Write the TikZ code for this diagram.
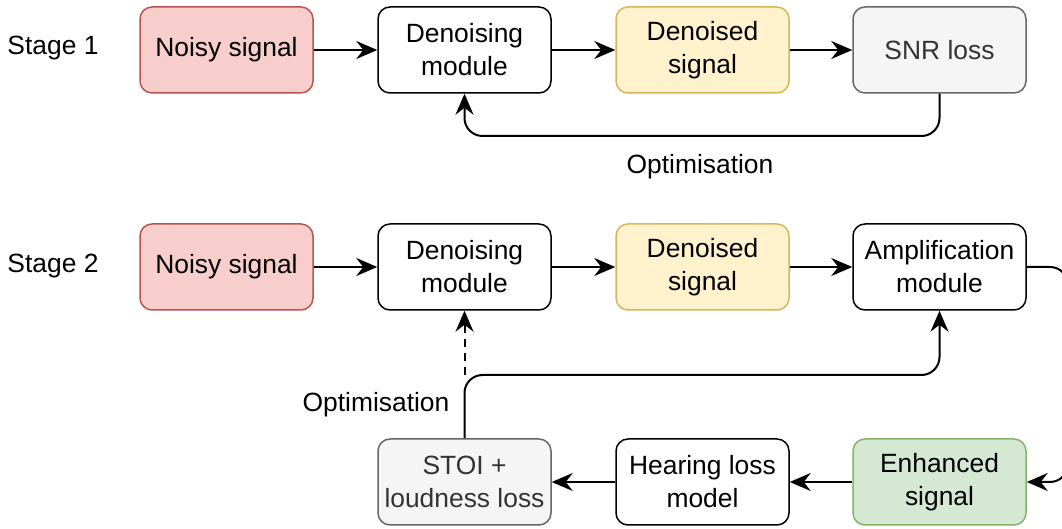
\documentclass[tikz,border=0pt]{standalone}
\usepackage{fontspec}
\setmainfont{Liberation Sans}
\usetikzlibrary{arrows.meta}
\definecolor{redfill}{HTML}{F8CECC}\definecolor{redline}{HTML}{B85450}
\definecolor{yelfill}{HTML}{FFF2CC}\definecolor{yelline}{HTML}{D6B656}
\definecolor{grayfill}{HTML}{F5F5F5}\definecolor{grayline}{HTML}{666666}\definecolor{graytext}{HTML}{333333}
\definecolor{grnfill}{HTML}{D5E8D4}\definecolor{grnline}{HTML}{82B366}
\begin{document}
\begin{tikzpicture}[x=0.5pt,y=-0.5pt,
  every node/.style={font=\fontsize{13.2}{16.5}\selectfont},
  box/.style={draw, line width=0.75pt, rounded corners=6pt, minimum width=86.5pt, minimum height=43pt, align=center, inner sep=2pt},
  noisy/.style={box, fill=redfill, draw=redline},
  plain/.style={box, fill=white, draw=black},
  yel/.style={box, fill=yelfill, draw=yelline},
  gry/.style={box, fill=grayfill, draw=grayline, text=graytext},
  grn/.style={box, fill=grnfill, draw=grnline},
  conn/.style={line width=1pt, -{Stealth[length=10.5pt,width=9pt,inset=3.5pt]}, rounded corners=9pt},
  lbl/.style={inner sep=0pt}]
\clip (0,0) rectangle (1062,529);
\useasboundingbox (0,0) rectangle (1062,529);
% stage 1
\node[lbl] (s1) at (53,48) {Stage 1};
\node[noisy] (n1) at (226.5,50) {Noisy signal};
\node[plain] (d1) at (464.5,50) {Denoising\\module};
\node[yel] (ds1) at (702.5,50) {Denoised\\signal};
\node[gry] (snr) at (939.5,50) {SNR loss};
\node[lbl] (o1) at (700,167) {Optimisation};
\draw[conn] (n1) -- (d1);
\draw[conn] (d1) -- (ds1);
\draw[conn] (ds1) -- (snr);
\draw[conn] (snr.south) -- (939.5,136) -- (464.5,136) -- (d1.south);
% stage 2
\node[lbl] (s2) at (53,266) {Stage 2};
\node[noisy] (n2) at (226.5,267) {Noisy signal};
\node[plain] (d2) at (464.5,267) {Denoising\\module};
\node[yel] (ds2) at (702.5,267) {Denoised\\signal};
\node[plain] (amp) at (939.5,267) {Amplification\\module};
\node[gry] (stoi) at (464.5,482) {STOI +\\loudness loss};
\node[plain] (hl) at (702.5,482) {Hearing loss\\model};
\node[grn] (enh) at (939.5,482) {Enhanced\\signal};
\node[lbl] (o2) at (376,405) {Optimisation};
\coordinate (split) at (464.5,375);
\draw[conn] (n2) -- (d2);
\draw[conn] (d2) -- (ds2);
\draw[conn] (ds2) -- (amp);
\draw[conn] (amp.east) -- (1068,267) -- (1068,482) -- (enh.east);
\draw[conn] (enh) -- (hl);
\draw[conn] (hl) -- (stoi);
\draw[conn] (stoi.north) -- (split) -- (939.5,375) -- (amp.south);
\draw[conn, dashed, dash pattern=on 4pt off 3pt, rounded corners=0pt] (split) -- (d2.south);
\end{tikzpicture}
\end{document}
